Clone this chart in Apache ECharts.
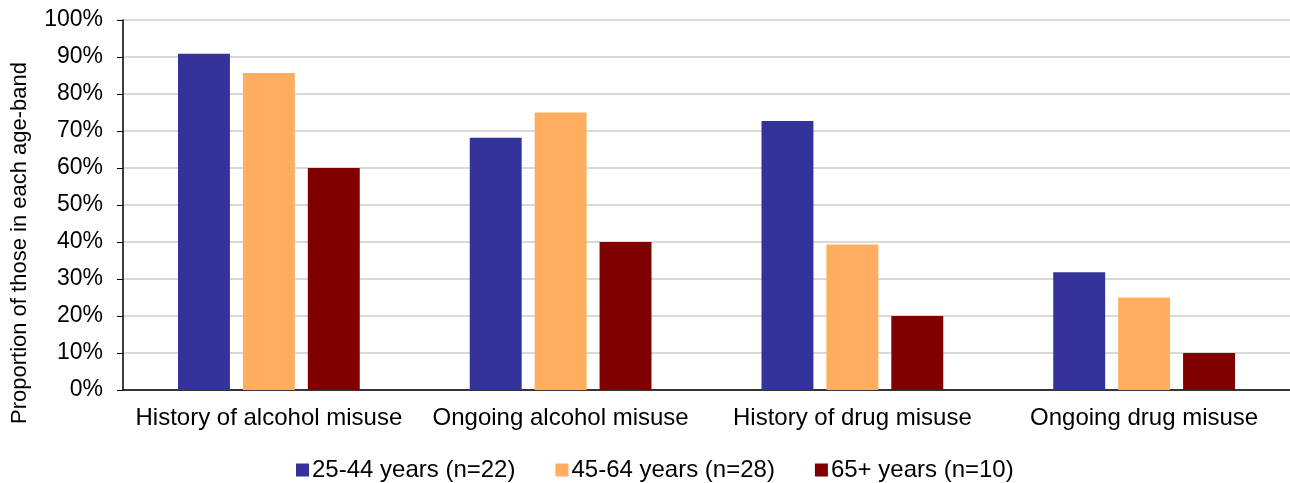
<!DOCTYPE html>
<html>
<head>
<meta charset="utf-8">
<script src="https://cdn.jsdelivr.net/npm/echarts@6/dist/echarts.min.js"></script>
<style>html,body{margin:0;padding:0;background:#fff;}#c{width:1290px;height:483px;}</style>
</head>
<body>
<div id="c"></div>
<script>
const categories = ["History of alcohol misuse", "Ongoing alcohol misuse", "History of drug misuse", "Ongoing drug misuse"];
const seriesNames = ["25-44 years (n=22)", "45-64 years (n=28)", "65+ years (n=10)"];
const age2544 = [90.9, 68.2, 72.7, 31.8];
const age4564 = [85.7, 75.0, 39.3, 25.0];
const age65 = [60, 40, 20, 10];
const colors = ["#333399", "#FFAD5F", "#800000"];

const font = "'Liberation Sans', Arial, sans-serif";
const chart = echarts.init(document.getElementById('c'));
const data = [age2544, age4564, age65];
chart.setOption({
  animation: false,
  textStyle: {fontFamily: font},
  grid: {left: 123, right: 0, top: 20, bottom: 93},
  legend: {
    top: 453, left: 291,
    itemWidth: 13, itemHeight: 13, itemGap: 40,
    icon: 'rect',
    textStyle: {fontSize: 24, color: '#000', fontFamily: font, padding: [0, 0, 0, -2]},
    data: seriesNames
  },
  xAxis: {
    type: 'category', data: categories,
    axisLine: {lineStyle: {color: '#000', width: 1.5}},
    axisTick: {show: false},
    axisLabel: {fontSize: 24, color: '#000', margin: 16, interval: 0, fontFamily: font}
  },
  yAxis: {
    type: 'value', min: 0, max: 100, interval: 10,
    name: 'Proportion of those in each age-band',
    nameLocation: 'middle', nameGap: 92, nameRotate: 90,
    nameTextStyle: {fontSize: 22, color: '#000', fontFamily: font, padding: [0, 76, 0, 0]},
    axisLine: {show: true, lineStyle: {color: '#000', width: 1.5}},
    axisTick: {show: true, length: 6, lineStyle: {color: '#000'}},
    axisLabel: {fontSize: 23, color: '#000', margin: 20, formatter: v => v + '%', fontFamily: font},
    splitLine: {lineStyle: {color: '#d9d9d9', width: 2}}
  },
  series: seriesNames.map((n, i) => ({
    name: n, type: 'bar', data: data[i],
    itemStyle: {color: colors[i]},
    barGap: '25%', barCategoryGap: '37.7%'
  }))
});
</script>
</body>
</html>
